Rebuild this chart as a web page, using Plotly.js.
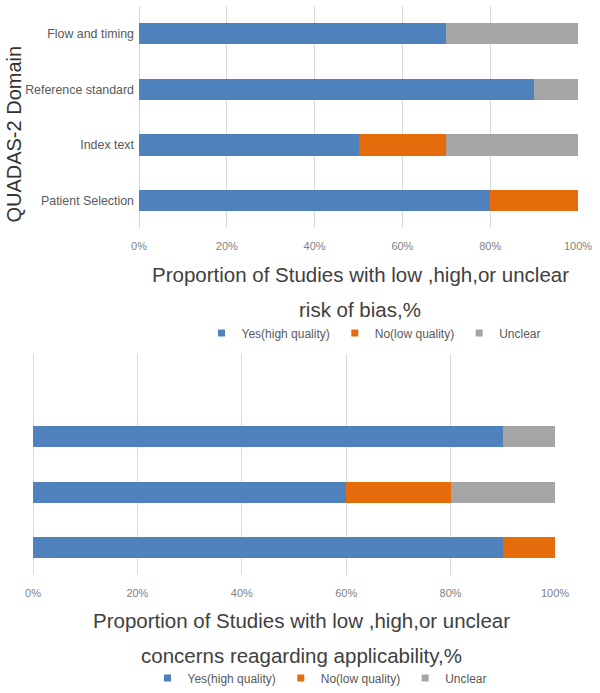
<!DOCTYPE html>
<html>
<head>
<meta charset="utf-8">
<script src="https://cdn.plot.ly/plotly-3.0.1.min.js"></script>
<style>html,body{margin:0;padding:0;background:#fff}#chart{width:600px;height:693px}</style>
</head>
<body>
<div id="chart"></div>
<script>
// Domains (bottom to top)
const domains = ["Patient Selection", "Index text", "Reference standard", "Flow and timing"];
const seriesNames = ["Yes(high quality)", "No(low quality)", "Unclear"];
const seriesColors = ["#4F81BD", "#E46C0A", "#A5A5A5"];

// Risk of bias (%)
const biasYes     = [80, 50, 90, 70];
const biasNo      = [20, 20, 0, 0];
const biasUnclear = [0, 30, 10, 30];

// Applicability concerns (%) – no value for Flow and timing
const applyYes     = [90, 60, 90, null];
const applyNo      = [10, 20, 0, null];
const applyUnclear = [0, 20, 10, null];

const xTicks = [0, 20, 40, 60, 80, 100];
const xTickText = ["0%", "20%", "40%", "60%", "80%", "100%"];

const biasSeries = [biasYes, biasNo, biasUnclear];
const applySeries = [applyYes, applyNo, applyUnclear];

const traces = [];
biasSeries.forEach((vals, i) => {
  traces.push({
    type: "bar", orientation: "h", name: seriesNames[i],
    x: vals, y: domains, xaxis: "x", yaxis: "y",
    marker: {color: seriesColors[i]}, showlegend: false, legendgroup: "b" + i
  });
});
applySeries.forEach((vals, i) => {
  traces.push({
    type: "bar", orientation: "h", name: seriesNames[i],
    x: vals, y: domains, xaxis: "x2", yaxis: "y2",
    marker: {color: seriesColors[i]}, showlegend: false, legendgroup: "a" + i
  });
});
// legend keys (small square markers, as in the reference)
seriesNames.forEach((nm, i) => {
  traces.push({type: "scatter", mode: "markers", name: nm, x: [null], y: [null],
    xaxis: "x", yaxis: "y", legend: "legend", legendgroup: "b" + i,
    marker: {symbol: "square", size: 7, color: seriesColors[i]}});
});
seriesNames.forEach((nm, i) => {
  traces.push({type: "scatter", mode: "markers", name: nm, x: [null], y: [null],
    xaxis: "x2", yaxis: "y2", legend: "legend2", legendgroup: "a" + i,
    marker: {symbol: "square", size: 7, color: seriesColors[i]}});
});

const H = 693, W = 600;
const py = px => 1 - px / H;
const pxx = px => px / W;

const gridColor = "#D9D9D9";
const textColor = "#595959";
const titleColor = "#404040";
const xCommon = {
  range: [0, 100], tickvals: xTicks, ticktext: xTickText,
  showgrid: true, gridcolor: gridColor, gridwidth: 1,
  zeroline: true, zerolinecolor: gridColor, zerolinewidth: 1,
  showline: false, ticks: "", ticklabelstandoff: 10,
  tickfont: {size: 11, color: "#7F7F7F"}, fixedrange: true
};

const layout = {
  width: W, height: H,
  margin: {l: 0, r: 0, t: 0, b: 0},
  paper_bgcolor: "#FFFFFF", plot_bgcolor: "#FFFFFF",
  font: {family: "Liberation Sans, Arial, sans-serif", color: textColor},
  barmode: "stack", bargap: 0.62,
  xaxis: Object.assign({}, xCommon, {domain: [pxx(139), pxx(578)], anchor: "y"}),
  xaxis2: Object.assign({}, xCommon, {domain: [pxx(33), pxx(555)], anchor: "y2"}),
  yaxis: {
    domain: [py(229), py(6)], anchor: "x", type: "category",
    categoryorder: "array", categoryarray: domains,
    showgrid: false, zeroline: false, showline: false, ticks: "",
    ticklabelstandoff: 4,
    tickfont: {size: 12.4, color: textColor}, fixedrange: true
  },
  yaxis2: {
    domain: [py(577), py(355)], anchor: "x2", type: "category",
    categoryorder: "array", categoryarray: domains,
    showgrid: false, zeroline: false, showline: false, ticks: "",
    showticklabels: false, fixedrange: true
  },
  legend: {
    orientation: "h", x: pxx(374), xanchor: "center", y: py(334), yanchor: "middle",
    font: {size: 12, color: textColor}, traceorder: "normal", itemwidth: 30
  },
  legend2: {
    orientation: "h", x: pxx(320), xanchor: "center", y: py(680), yanchor: "middle",
    font: {size: 12, color: textColor}, traceorder: "normal", itemwidth: 30
  },
  annotations: [
    {text: "QUADAS-2 Domain", textangle: -90, xref: "paper", yref: "paper",
     x: pxx(14), y: py(135), xanchor: "center", yanchor: "middle", showarrow: false,
     font: {size: 20, color: "#333333"}},
    {text: "Proportion of Studies with low ,high,or unclear", xref: "paper", yref: "paper",
     x: pxx(360), y: py(275), xanchor: "center", yanchor: "middle", showarrow: false,
     font: {size: 20.5, color: titleColor}},
    {text: "risk of bias,%", xref: "paper", yref: "paper",
     x: pxx(360), y: py(310), xanchor: "center", yanchor: "middle", showarrow: false,
     font: {size: 20.5, color: titleColor}},
    {text: "Proportion of Studies with low ,high,or unclear", xref: "paper", yref: "paper",
     x: pxx(301), y: py(622), xanchor: "center", yanchor: "middle", showarrow: false,
     font: {size: 20.5, color: titleColor}},
    {text: "concerns reagarding applicability,%", xref: "paper", yref: "paper",
     x: pxx(301), y: py(657), xanchor: "center", yanchor: "middle", showarrow: false,
     font: {size: 20.5, color: titleColor}}
  ]
};

Plotly.newPlot("chart", traces, layout, {displayModeBar: false, staticPlot: true});
</script>
</body>
</html>
